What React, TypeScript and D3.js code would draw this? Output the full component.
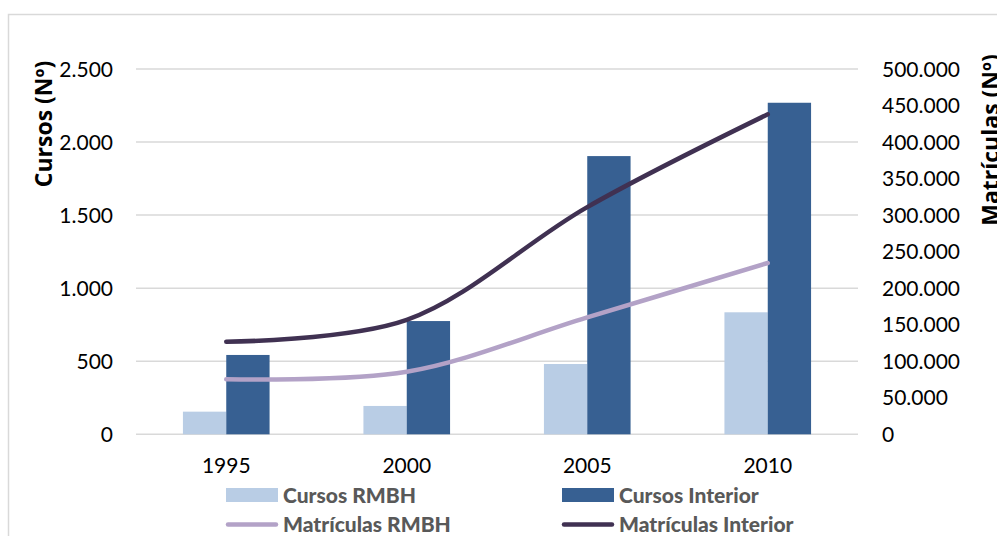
import React from 'react';
import * as d3 from 'd3';

const years = ['1995', '2000', '2005', '2010'];
const cursosRMBH = [155, 194, 481, 835];
const cursosInterior = [543, 775, 1904, 2269];
const matriculasRMBH = [75300, 85500, 160000, 234500];
const matriculasInterior = [126700, 156600, 311000, 438000];
const leftTicks = [0, 500, 1000, 1500, 2000, 2500];
const rightTicks = [0, 50000, 100000, 150000, 200000, 250000, 300000, 350000, 400000, 450000, 500000];

const W = 997;
const H = 536;
const FONT = 'Lato, "Open Sans", sans-serif';
const TITLE_FONT = '"Open Sans", Lato, sans-serif';

const fmt = (v: number) => d3.format(',')(v).replace(/,/g, '.');

export default function App() {
    const x = d3.scaleBand().domain(years).range([136, 858]).paddingInner(0.52).paddingOuter(0.26);
    const yL = d3.scaleLinear().domain([0, 2500]).range([434.3, 69]);
    const yR = d3.scaleLinear().domain([0, 500000]).range([434.3, 69]);
    const bw = x.bandwidth() / 2;
    const cx = (y: string) => (x(y) as number) + x.bandwidth() / 2;

    const line = d3
        .line<number>()
        .x((d, i) => cx(years[i]))
        .y((d) => yR(d))
        .curve(d3.curveCatmullRom);

    const legend = [
        { label: 'Cursos RMBH', type: 'bar', color: '#b9cde5', x: 226, y: 495 },
        { label: 'Cursos Interior', type: 'bar', color: '#376092', x: 562, y: 495 },
        { label: 'Matrículas RMBH', type: 'line', color: '#b3a2c7', x: 226, y: 524.5 },
        { label: 'Matrículas Interior', type: 'line', color: '#403152', x: 562, y: 524.5 }
    ];

    return (
        <svg width={W} height={H} style={{ position: 'absolute', left: 0, top: 0 }} fontFamily={FONT}>
            <rect x={0} y={0} width={W} height={H} fill="#fff" />
            <rect x={8.5} y={14.5} width={1000} height={600} fill="none" stroke="#d9d9d9" strokeWidth={1.5} />

            {leftTicks.map((t) => (
                <g key={t}>
                    <line x1={136} x2={858} y1={yL(t)} y2={yL(t)} stroke="#d9d9d9" strokeWidth={1.5} />
                    <text x={113} y={yL(t)} dy="0.36em" textAnchor="end" fontSize={21} fill="#000">
                        {fmt(t)}
                    </text>
                </g>
            ))}
            {rightTicks.map((t) => (
                <text key={t} x={882} y={yR(t)} dy="0.36em" textAnchor="start" fontSize={21} fill="#000">
                    {fmt(t)}
                </text>
            ))}

            {years.map((yr, i) => (
                <g key={yr}>
                    <rect x={x(yr)} y={yL(cursosRMBH[i])} width={bw} height={yL(0) - yL(cursosRMBH[i])} fill="#b9cde5" />
                    <rect
                        x={(x(yr) as number) + bw}
                        y={yL(cursosInterior[i])}
                        width={bw}
                        height={yL(0) - yL(cursosInterior[i])}
                        fill="#376092"
                    />
                    <text x={cx(yr)} y={473} textAnchor="middle" fontSize={21} fill="#000">
                        {yr}
                    </text>
                </g>
            ))}

            <path d={line(matriculasRMBH) || ''} fill="none" stroke="#b3a2c7" strokeWidth={4.5} strokeLinecap="round" />
            <path d={line(matriculasInterior) || ''} fill="none" stroke="#403152" strokeWidth={4.5} strokeLinecap="round" />

            <text
                transform="translate(52,124) rotate(-90)"
                textAnchor="middle"
                fontSize={23}
                fontWeight="bold"
                fontFamily={TITLE_FONT}
                fill="#000"
            >
                Cursos (Nº)
            </text>
            <text
                transform="translate(999,140) rotate(-90)"
                textAnchor="middle"
                fontSize={23}
                fontWeight="bold"
                fontFamily={TITLE_FONT}
                fill="#000"
            >
                Matrículas (Nº)
            </text>

            {legend.map((l) => (
                <g key={l.label}>
                    {l.type === 'bar' ? (
                        <rect x={l.x} y={l.y - 7} width={52} height={14} fill={l.color} />
                    ) : (
                        <line x1={l.x + 2} x2={l.x + 50} y1={l.y} y2={l.y} stroke={l.color} strokeWidth={4.5} strokeLinecap="round" />
                    )}
                    <text x={l.x + 57} y={l.y} dy="0.36em" fontSize={21} fontWeight={900} fill="#595959">
                        {l.label}
                    </text>
                </g>
            ))}
        </svg>
    );
}
